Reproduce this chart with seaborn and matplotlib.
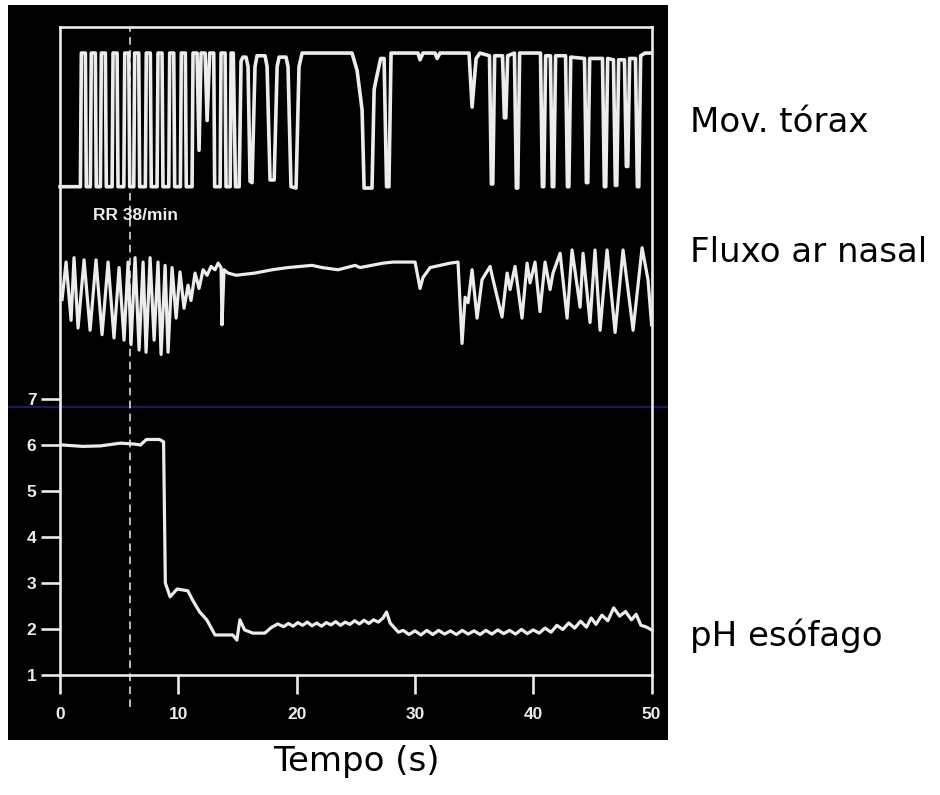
import matplotlib
matplotlib.use("Agg")
import matplotlib.pyplot as plt
import pandas as pd
import seaborn as sns

# ---------------- data ----------------
# Chest wall movement (arbitrary units, 0 = expiration floor, 100 = clipped ceiling)
chest_t = [0.00, 1.72, 1.80, 2.14, 2.22,
           2.56, 2.64, 2.98, 3.06,
           3.41, 3.49, 3.83, 3.91,
           4.40, 4.48, 4.82, 4.90,
           5.39, 5.47, 5.81, 5.89,
           6.23, 6.31, 6.65, 6.73,
           7.21, 7.29, 7.63, 7.71,
           8.20, 8.28, 8.62, 8.70,
           9.19, 9.27, 9.61, 9.69,
           10.17, 10.25, 10.59, 10.67,
           11.16, 11.24, 11.58, 11.75,
           11.92, 12.26, 12.43,
           12.65, 12.99, 13.07,
           13.53, 13.61, 13.95, 14.03,
           14.38, 14.46, 14.64, 14.83,
           15.14, 15.30, 15.46, 15.72, 15.89, 16.06, 16.23,
           16.48, 16.65, 17.33, 17.50, 17.75, 18.10, 18.35, 18.52, 19.10, 19.27,
           19.52, 19.95, 20.20, 20.46,
           24.68, 25.11, 25.53, 25.70, 26.37, 26.55, 26.71, 27.10, 27.39, 27.60,
           27.80, 27.98, 30.26, 30.43, 30.68, 31.70, 31.87, 32.12, 34.57, 34.83,
           35.17, 35.50,
           36.30, 36.46, 36.58, 36.74,
           37.40, 37.56, 37.68, 37.84,
           38.41, 38.57, 38.69, 38.85,
           40.61, 40.77, 40.89, 41.05,
           41.45, 41.61, 41.73, 41.89,
           42.73, 42.89, 43.01, 43.17,
           44.33, 44.49, 44.61, 44.77,
           45.85, 46.01, 46.13, 46.29,
           46.78, 46.94, 47.06, 47.22,
           47.71, 47.87, 47.99, 48.15,
           48.64, 48.80, 48.92, 49.08,
           49.45, 49.96]
chest_amp = [1, 1, 100, 100, 1,
             1, 100, 100, 1,
             1, 100, 100, 1,
             1, 100, 100, 1,
             1, 100, 100, 1,
             1, 100, 100, 1,
             1, 100, 100, 1,
             1, 100, 100, 1,
             1, 100, 100, 1,
             1, 100, 100, 1,
             1, 100, 100, 28,
             100, 100, 50,
             100, 100, 1,
             1, 100, 100, 1,
             1, 100, 100, 1,
             1, 94, 97, 97, 90, 5, 4,
             90, 98, 98, 90, 6, 6, 90, 97, 97, 90,
             1, 0, 90, 100,
             100, 87, 58, 0, 0, 73, 80, 96, 96, 1,
             1, 100, 100, 95, 100, 100, 96, 100, 100, 60,
             96, 100,
             98, 3, 3, 98,
             98, 52, 52, 98,
             100, 0, 0, 100,
             100, 1, 1, 98,
             98, 1, 1, 98,
             98, 1, 1, 97,
             96, 4, 4, 96,
             96, 1, 1, 96,
             95, 2, 2, 95,
             95, 16, 16, 96,
             96, 1, 1, 98,
             100, 100]

# Nasal airflow (arbitrary units)
flow_t = [0.17, 0.51, 0.93, 1.18, 1.52, 2.03, 2.54, 3.04, 3.55, 4.06, 4.56, 4.99, 5.41, 5.75,
          6.00, 6.34, 6.68, 7.02, 7.27, 7.61, 7.95, 8.28, 8.54, 8.88, 9.13, 9.47, 9.81, 10.14,
          10.48, 10.82, 11.07, 11.41, 11.75, 12.09, 12.43, 12.76, 13.10, 13.36, 13.61, 13.69,
          13.86, 14.20, 14.88, 16.48, 17.92, 19.27, 21.30, 22.15, 23.50, 24.94, 25.36, 27.30,
          28.15, 30.01, 30.43, 30.68, 31.28, 32.97, 33.64, 33.98, 34.24, 34.49, 34.83, 35.25,
          35.67, 36.35, 36.60, 37.36, 37.79, 38.04, 38.46, 39.05, 39.48, 39.73, 40.15, 40.57,
          41.00, 41.42, 41.67, 42.27, 42.86, 43.28, 43.96, 44.21, 44.80, 45.22, 45.65, 46.24,
          46.92, 47.59, 48.44, 49.20, 49.70, 50.00]
flow_amp = [55, 89, 36, 93, 29, 91, 27, 91, 23, 89, 20, 84, 18, 89,
            14, 93, 9, 89, 7, 93, 18, 89, 5, 86, 7, 84, 38, 80,
            47, 68, 54, 79, 65, 82, 77, 85, 82, 88, 84, 32,
            82, 79, 77, 79, 82, 84, 86, 84, 82, 86, 84, 88,
            89, 89, 65, 75, 84, 88, 89, 15, 57, 52, 82, 38,
            73, 85, 73, 39, 79, 64, 85, 38, 88, 70, 89, 44,
            89, 64, 79, 97, 38, 100, 48, 97, 34, 100, 27, 100,
            25, 100, 27, 102, 73, 32]

# Oesophageal pH
ph_t = [0.2, 1.9, 3.4, 5.1, 6.3, 6.8, 7.3, 8.4, 8.75, 8.9,
        9.3, 9.9, 10.8, 11.2, 11.8, 12.4, 13.1, 14.6, 14.95, 15.2,
        15.6, 16.3, 17.3, 17.9, 18.4, 18.9, 19.3, 19.7, 20.1, 20.5,
        20.9, 21.3, 21.7, 22.1, 22.5, 22.9, 23.3, 23.7, 24.1, 24.5,
        24.9, 25.3, 25.7, 26.1, 26.5, 26.9, 27.3, 27.6, 27.9, 28.6,
        29.0, 29.5, 30.0, 30.5, 31.0, 31.5, 32.0, 32.5, 33.0, 33.5,
        34.0, 34.5, 35.0, 35.5, 36.0, 36.5, 37.0, 37.5, 38.0, 38.5,
        39.0, 39.5, 40.0, 40.5, 41.0, 41.5, 42.0, 42.5, 43.0, 43.5,
        44.0, 44.5, 44.9, 45.3, 45.8, 46.3, 46.8, 47.3, 47.8, 48.3,
        48.7, 49.1, 49.5, 50.0]
ph_val = [6.00, 5.97, 5.98, 6.04, 6.02, 6.00, 6.12, 6.12, 6.07, 3.00,
          2.70, 2.87, 2.83, 2.63, 2.37, 2.20, 1.87, 1.87, 1.76, 2.20,
          1.98, 1.91, 1.91, 2.04, 2.11, 2.05, 2.12, 2.06, 2.14, 2.08,
          2.15, 2.07, 2.13, 2.06, 2.14, 2.09, 2.16, 2.08, 2.15, 2.10,
          2.18, 2.11, 2.19, 2.12, 2.20, 2.15, 2.24, 2.37, 2.13, 1.93,
          1.97, 1.88, 1.96, 1.87, 1.97, 1.88, 1.97, 1.89, 1.96, 1.88,
          1.97, 1.89, 1.96, 1.88, 1.97, 1.89, 1.98, 1.90, 1.97, 1.89,
          1.99, 1.90, 1.98, 1.91, 2.02, 1.93, 2.08, 1.99, 2.13, 2.02,
          2.17, 2.04, 2.24, 2.10, 2.30, 2.18, 2.46, 2.28, 2.38, 2.20,
          2.32, 2.08, 2.05, 1.98]

time_ticks = [0, 10, 20, 30, 40, 50]
ph_ticks = [1, 2, 3, 4, 5, 6, 7]
reflux_onset = 5.9          # dashed marker (s)
ph_threshold = 6.83         # blue reference level
rate_label = "RR 38/min"
trace_names = ["Mov. tórax", "Fluxo ar nasal", "pH esófago"]
x_title = "Tempo (s)"

# ---------------- styling ----------------
W, H = 940, 795
fg = "#ececec"
trace_lw = 2.3
chest_lw = 2.6
frame_lw = 1.9

fig = plt.figure(figsize=(W / 100, H / 100), dpi=100)
fig.patch.set_facecolor("white")

rect = [8 / W, (H - 740) / H, 660 / W, 735 / H]
xlim = (-4.40, 51.39)
ph_lim = (-0.413, 15.565)
frame_top = 15.09

ax = fig.add_axes(rect)
ax.set_facecolor("black")
ax.set_xlim(*xlim)
ax.set_ylim(*ph_lim)

# frame: spines drawn at data positions
for side in ["left", "right", "top", "bottom"]:
    ax.spines[side].set_color(fg)
    ax.spines[side].set_linewidth(frame_lw)
    ax.spines[side].set_zorder(4)
ax.spines["left"].set_position(("data", 0))
ax.spines["left"].set_bounds(1, frame_top)
ax.spines["right"].set_position(("data", 50))
ax.spines["right"].set_bounds(1, frame_top)
ax.spines["bottom"].set_position(("data", 1))
ax.spines["bottom"].set_bounds(0, 50)
ax.spines["top"].set_position(("data", frame_top))
ax.spines["top"].set_bounds(0, 50)

ax.set_xticks(time_ticks)
ax.set_xticklabels([str(v) for v in time_ticks])
ax.set_yticks(ph_ticks)
ax.set_yticklabels([str(v) for v in ph_ticks])
ax.tick_params(axis="x", direction="out", length=14, width=frame_lw, color=fg,
               labelcolor=fg, pad=9, labelsize=12.5)
ax.tick_params(axis="y", direction="out", length=14, width=frame_lw, color=fg,
               labelcolor=fg, pad=3, labelsize=12.5)
for lab in ax.get_xticklabels() + ax.get_yticklabels():
    lab.set_fontweight("bold")
    lab.set_family("Liberation Sans")

# blue reference level and dashed onset marker
ax.axhline(ph_threshold, color="#1b1b5c", lw=1.6, zorder=1)
ax.vlines(reflux_onset, 0.30, frame_top, colors=fg, linestyles=(0, (5, 3.5)), lw=1.1, zorder=2)

ph_df = pd.DataFrame({"t": ph_t, "pH": ph_val})
sns.lineplot(data=ph_df, x="t", y="pH", ax=ax, color=fg, lw=trace_lw,
             estimator=None, sort=False, legend=False)
ax.set_xlabel("")
ax.set_ylabel("")

# chest and flow channels share the time axis, each with its own amplitude scale
ax_chest = fig.add_axes(rect, facecolor="none")
ax_chest.set_xlim(*xlim)
ax_chest.set_ylim(-408.9, 135.6)
ax_chest.axis("off")
chest_df = pd.DataFrame({"t": chest_t, "amp": chest_amp})
sns.lineplot(data=chest_df, x="t", y="amp", ax=ax_chest, color=fg, lw=chest_lw,
             estimator=None, sort=False, legend=False)
ax_chest.text(2.8, -20, rate_label, color=fg, fontsize=12.5, fontweight="bold",
              family="Liberation Sans", va="center", ha="left")

ax_flow = fig.add_axes(rect, facecolor="none")
ax_flow.set_xlim(*xlim)
ax_flow.set_ylim(-345.5, 322.7)
ax_flow.axis("off")
flow_df = pd.DataFrame({"t": flow_t, "amp": flow_amp})
sns.lineplot(data=flow_df, x="t", y="amp", ax=ax_flow, color=fg, lw=trace_lw,
             estimator=None, sort=False, legend=False)

# channel names and time title
label_y = [122, 252, 636]
for name, yp in zip(trace_names, label_y):
    fig.text(690 / W, 1 - yp / H, name, fontsize=24.5, color="black",
             family="DejaVu Sans", ha="left", va="center")
fig.text(356 / W, 1 - 762 / H, x_title, fontsize=24.5, color="black",
         family="DejaVu Sans", ha="center", va="center")

fig.savefig("out.png", dpi=100, facecolor="white")
